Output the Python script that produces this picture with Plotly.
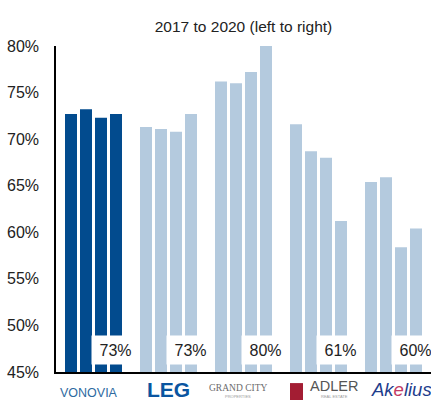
import plotly.graph_objects as go

companies = ["Vonovia", "LEG", "Grand City", "Adler", "Akelius"]
years = ["2017", "2018", "2019", "2020"]
values = {
    "2017": [72.7, 71.3, 76.2, 71.6, 65.4],
    "2018": [73.2, 71.1, 76.0, 68.7, 65.9],
    "2019": [72.3, 70.8, 77.2, 68.0, 58.4],
    "2020": [72.7, 72.7, 80.0, 61.2, 60.4],
}
labels = ["73%", "73%", "80%", "61%", "60%"]
tick_vals = [45, 50, 55, 60, 65, 70, 75, 80]
tick_text = ["45%", "50%", "55%", "60%", "65%", "70%", "75%", "80%"]

DARK = "#024B8E"
LIGHT = "#B4CADE"
colors = [DARK] + [LIGHT] * (len(companies) - 1)

FONT = "Arial, Liberation Sans, sans-serif"

fig = go.Figure()
for yr in years:
    fig.add_trace(go.Bar(
        x=companies, y=values[yr], name=yr,
        marker=dict(color=colors, line=dict(width=0)),
        showlegend=False,
    ))

annotations = []
for i, lab in enumerate(labels):
    annotations.append(dict(
        x=i + 0.293, y=47.4, xref="x", yref="y", text=lab, showarrow=False,
        font=dict(size=16, color="#222222", family=FONT),
        bgcolor="white", width=45, height=26, xanchor="center", yanchor="middle",
    ))

logo = dict(xref="x", yref="paper", showarrow=False, xanchor="center", yanchor="middle")
annotations += [
    dict(logo, x=0, y=-0.063, xshift=-4.5,
         text="VONOVIA", font=dict(size=12.5, color="#2D6A9F", family=FONT)),
    dict(logo, x=1, y=-0.055, xshift=0,
         text="<b>LEG</b>", font=dict(size=21, color="#0A55A0", family=FONT)),
    dict(logo, x=2, y=-0.05, xshift=-6,
         text="GRAND CITY", font=dict(size=9.5, color="#6B6B6B", family="Liberation Serif, DejaVu Serif, serif")),
    dict(logo, x=2, y=-0.074, xshift=-6,
         text="PROPERTIES", font=dict(size=4, color="#9A9A9A", family=FONT)),
    dict(logo, x=3, y=-0.044, xshift=15.5,
         text="ADLER", font=dict(size=14.5, color="#555555", family=FONT)),
    dict(logo, x=3, y=-0.074, xshift=15.5,
         text="REAL ESTATE", font=dict(size=4, color="#9A9A9A", family=FONT)),
    dict(logo, x=4, y=-0.055, xshift=7.5,
         text="<i>Ak<span style='color:#C23B63'>e</span>lius</i>",
         font=dict(size=18.5, color="#1E3D8C", family=FONT)),
]

shapes = [
    dict(type="rect", xref="x", yref="paper", x0=2.62, x1=2.793, y0=-0.034, y1=-0.09,
         fillcolor="#A31D33", line=dict(width=0), layer="above"),
]

fig.update_layout(
    width=431, height=400,
    margin=dict(l=56, r=0, t=46, b=28),
    paper_bgcolor="white", plot_bgcolor="white",
    barmode="group", bargap=0.2, bargroupgap=0.2,
    title=dict(text="2017 to 2020 (left to right)", x=0.5, xref="paper",
               y=1 - 27 / 400, yanchor="middle", xanchor="center",
               font=dict(size=15.5, color="#222222", family=FONT)),
    xaxis=dict(range=[-0.5, 4.5], showticklabels=False, showline=True,
               linecolor="black", linewidth=1.5, ticks="", showgrid=False,
               zeroline=False, fixedrange=True),
    yaxis=dict(range=[45, 80], tickvals=tick_vals, ticktext=tick_text,
               showline=True, linecolor="black", linewidth=1.5, ticks="",
               showgrid=False, zeroline=False, ticklabelstandoff=12,
               tickfont=dict(size=16, color="#222222", family=FONT)),
    annotations=annotations,
    shapes=shapes,
)

fig.write_html(
    "out.html",
    config={"displayModeBar": False},
    post_script="document.body.style.margin='0';document.body.style.overflow='hidden';",
)
